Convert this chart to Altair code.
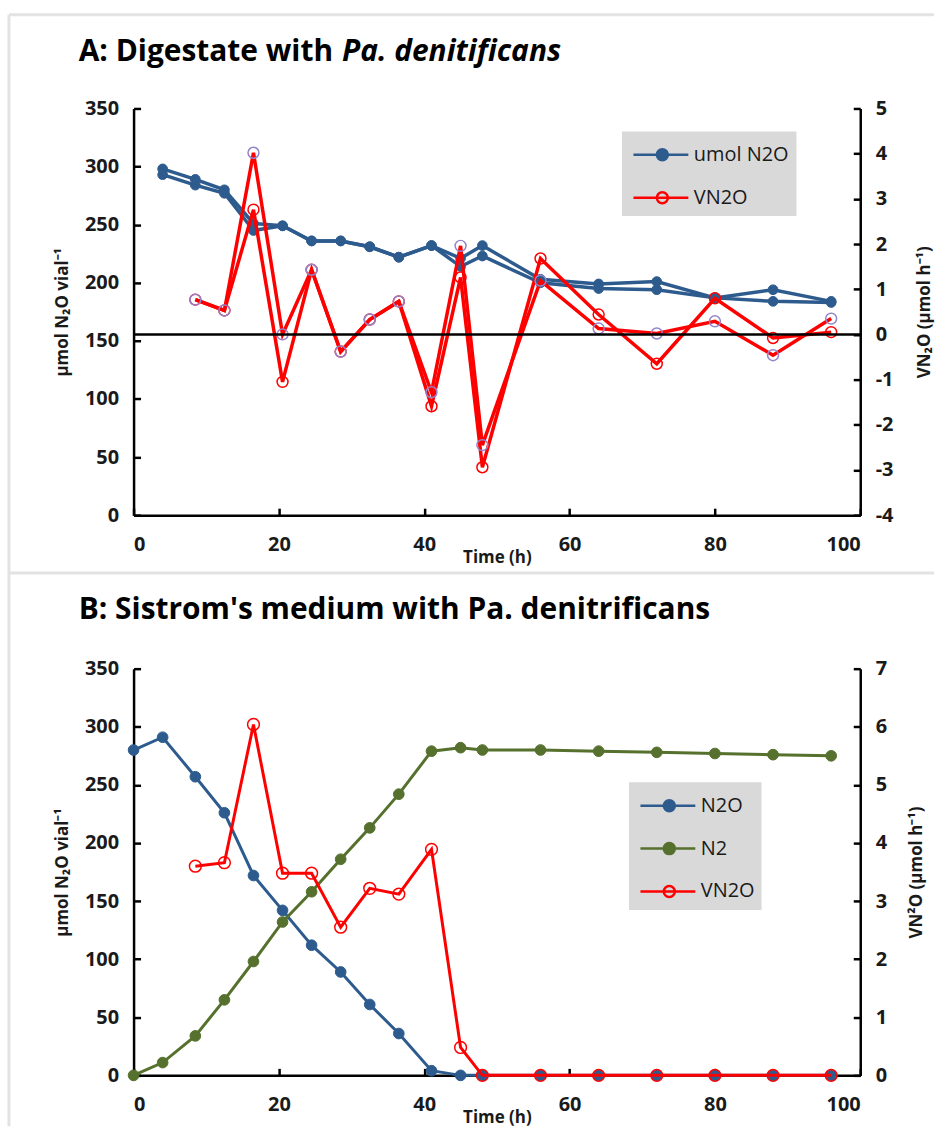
import altair as alt
import pandas as pd

# ---------------- data ----------------
# A: digestate inoculated with Pa. denitrificans (two replicate vials)
time_a = [4, 8.5, 12.5, 16.5, 20.5, 24.5, 28.5, 32.5, 36.5, 41, 45, 48, 56, 64, 72, 80, 88, 96]
n2o_a_vial1 = [298, 289, 280, 251, 249, 236, 236, 231, 222, 232, 221, 232, 203, 199, 201, 187, 194, 184]
n2o_a_vial2 = [293, 284, 277, 245, 249, 236, 236, 231, 222, 232, 214, 223, 200, 195, 194, 187, 184, 183]
time_a_rate = [8.5, 12.5, 16.5, 20.5, 24.5, 28.5, 32.5, 36.5, 41, 45, 48, 56, 64, 72, 80, 88, 96]
vn2o_a_vial1 = [0.77, 0.53, 2.76, -1.05, 1.43, -0.38, 0.33, 0.73, -1.59, 1.26, -2.94, 1.68, 0.44, -0.65, 0.80, -0.08, 0.05]
vn2o_a_vial2 = [0.77, 0.53, 4.02, 0.00, 1.43, -0.38, 0.33, 0.73, -1.28, 1.96, -2.45, 1.19, 0.13, 0.02, 0.29, -0.46, 0.35]

# B: Sistrom's medium with Pa. denitrificans
time_b = [0, 4, 8.5, 12.5, 16.5, 20.5, 24.5, 28.5, 32.5, 36.5, 41, 45, 48, 56, 64, 72, 80, 88, 96]
n2o_b = [280, 291, 257, 226, 172, 142, 112, 89, 61, 36, 4, 0, 0, 0, 0, 0, 0, 0, 0]
n2_b = [0, 11, 34, 65, 98, 132, 158, 186, 213, 242, 279, 282, 280, 280, 279, 278, 277, 276, 275]
time_b_rate = [8.5, 12.5, 16.5, 20.5, 24.5, 28.5, 32.5, 36.5, 41, 45, 48, 56, 64, 72, 80, 88, 96]
vn2o_b = [3.60, 3.66, 6.04, 3.48, 3.48, 2.55, 3.22, 3.12, 3.89, 0.48, 0, 0, 0, 0, 0, 0, 0]

series_a = ["umol N2O", "VN2O"]
series_b = ["N2O", "N2", "VN2O"]

# ---------------- style ----------------
FONT = "Open Sans"
INK = "#1A1A1A"
BLUE = "#2E5B8E"
GREEN = "#56702D"
RED = "#FF0000"
PURPLE = "#9484CC"
FRAME = "#E3E3E3"
W, H = 729, 408
INWARD = {"expr": "-7"}

# legend glyph: a short line with a circle on it (drawn a little right of the
# nominal symbol centre so that the rows stay compact)
LEG_PATH = "M-0.8,0L2.87,0M0.76,0A0.37,0.37,0,1,1,1.5,0A0.37,0.37,0,1,1,0.76,0Z"


def legend(x, y):
    return alt.Legend(
        title=None, orient="none", legendX=x, legendY=y,
        fillColor="#D9D9D9", padding=7,
        symbolType=LEG_PATH, symbolSize=900, symbolStrokeWidth=2.5, symbolOpacity=1,
        labelFont=FONT, labelFontSize=20, labelColor=INK, labelOffset=32,
        rowPadding=15,
    )


def x_enc():
    return alt.X(
        "time:Q",
        scale=alt.Scale(domain=[0, 100], nice=False),
        axis=alt.Axis(values=[0, 20, 40, 60, 80, 100], title="Time (h)",
                      titleY=42, titleBaseline="middle",
                      tickSize=INWARD, labelPadding=26),
    )


def y_left(title):
    return alt.Y(
        "value:Q",
        scale=alt.Scale(domain=[0, 350], nice=False),
        axis=alt.Axis(values=list(range(0, 351, 50)), title=title,
                      titleX=-71, titleAngle=270, titleBaseline="middle",
                      tickSize=INWARD, labelPadding=22),
    )


def y_right(domain, title, title_x):
    return alt.Y(
        "rate:Q",
        scale=alt.Scale(domain=domain, nice=False, zero=False),
        axis=alt.Axis(orient="right", values=list(range(domain[0], domain[1] + 1)),
                      labelExpr="'' + datum.value",
                      title=title, titleX=title_x, titleAngle=270, titleBaseline="middle",
                      tickSize=INWARD, labelPadding=22),
    )


one_row = pd.DataFrame({"k": [0]})


def text_piece(text, x, y, italic=False):
    return alt.Chart(one_row).mark_text(
        align="left", baseline="middle", font=FONT, fontSize=30,
        fontWeight="bold", fontStyle="italic" if italic else "normal", color="#000000",
    ).encode(x=alt.value(x), y=alt.value(y), text=alt.value(text))


# ---------------- panel A ----------------
df_a_n2o = pd.concat([
    pd.DataFrame({"time": time_a, "value": n2o_a_vial1, "vial": "1", "series": series_a[0]}),
    pd.DataFrame({"time": time_a, "value": n2o_a_vial2, "vial": "2", "series": series_a[0]}),
])
df_a_v1 = pd.DataFrame({"time": time_a_rate, "rate": vn2o_a_vial1, "vial": "1", "series": series_a[1]})
df_a_v2 = pd.DataFrame({"time": time_a_rate, "rate": vn2o_a_vial2, "vial": "2", "series": series_a[1]})
df_a_rate = pd.concat([df_a_v1, df_a_v2])

leg_a = legend(490, 23)
stroke_a = alt.Stroke("series:N", scale=alt.Scale(domain=series_a, range=[BLUE, RED]), legend=leg_a)
fill_a = alt.Fill("series:N", scale=alt.Scale(domain=series_a, range=[BLUE, "transparent"]), legend=leg_a)

left_a = alt.layer(
    alt.Chart(df_a_n2o).mark_line(strokeWidth=3.5).encode(
        x=x_enc(), y=y_left("µmol N₂O vial⁻¹"), stroke=stroke_a, detail="vial:N"),
    alt.Chart(df_a_n2o).mark_point(filled=True, size=95, strokeWidth=1, opacity=1).encode(
        x=x_enc(), y=y_left("µmol N₂O vial⁻¹"), stroke=stroke_a, fill=fill_a),
)

ya_r = y_right([-4, 5], "VN₂O (µmol h⁻¹)", 64)
right_a = alt.layer(
    alt.Chart(df_a_rate).mark_line(strokeWidth=3.5).encode(
        x=x_enc(), y=ya_r, stroke=stroke_a, detail="vial:N"),
    alt.Chart(df_a_v1).mark_point(filled=True, size=120, strokeWidth=1.5, opacity=1).encode(
        x=x_enc(), y=ya_r, stroke=stroke_a, fill=fill_a),
    alt.Chart(df_a_v2).mark_point(filled=False, size=120, strokeWidth=1.5, color=PURPLE, opacity=1).encode(
        x=x_enc(), y=ya_r),
    alt.Chart(one_row).mark_rule(color="#000000", strokeWidth=2.5).encode(y=alt.datum(0)),
)

# frame lines around the figure
frame_lines = alt.layer(
    alt.Chart(one_row).mark_rule(color=FRAME, strokeWidth=3).encode(
        x=alt.value(-125), y=alt.value(-94), y2=alt.value(1021)),
    alt.Chart(one_row).mark_rule(color=FRAME, strokeWidth=3).encode(
        x=alt.value(-125), x2=alt.value(803), y=alt.value(-94)),
    alt.Chart(one_row).mark_rule(color=FRAME, strokeWidth=3).encode(
        x=alt.value(-125), x2=alt.value(803), y=alt.value(466)),
)

panel_a = alt.layer(
    frame_lines,
    left_a,
    right_a,
    text_piece("A: Digestate with", -55, -57),
    text_piece("Pa. denitificans", 209, -57, italic=True),
).resolve_scale(y="independent").properties(width=W, height=H)

# ---------------- panel B ----------------
df_b_left = pd.concat([
    pd.DataFrame({"time": time_b, "value": n2o_b, "series": series_b[0]}),
    pd.DataFrame({"time": time_b, "value": n2_b, "series": series_b[1]}),
])
df_b_rate = pd.DataFrame({"time": time_b_rate, "rate": vn2o_b, "series": series_b[2]})

leg_b = legend(497, 114)
stroke_b = alt.Stroke("series:N", scale=alt.Scale(domain=series_b, range=[BLUE, GREEN, RED]), legend=leg_b)
fill_b = alt.Fill("series:N", scale=alt.Scale(domain=series_b, range=[BLUE, GREEN, "transparent"]), legend=leg_b)

left_b = alt.layer(
    alt.Chart(df_b_left).mark_line(strokeWidth=3).encode(
        x=x_enc(), y=y_left("µmol N₂O vial⁻¹"), stroke=stroke_b),
    alt.Chart(df_b_left).mark_point(filled=True, size=115, strokeWidth=1, opacity=1).encode(
        x=x_enc(), y=y_left("µmol N₂O vial⁻¹"), stroke=stroke_b, fill=fill_b),
)

yb_r = y_right([0, 7], "VN²O (µmol h⁻¹)", 56)
right_b = alt.layer(
    alt.Chart(df_b_rate).mark_line(strokeWidth=3).encode(
        x=x_enc(), y=yb_r, stroke=stroke_b),
    alt.Chart(df_b_rate).mark_point(filled=True, size=140, strokeWidth=1.5, opacity=1).encode(
        x=x_enc(), y=yb_r, stroke=stroke_b, fill=fill_b),
)

panel_b = alt.layer(
    left_b,
    right_b,
    text_piece("B: Sistrom's medium with Pa. denitrificans", -55, -59),
).resolve_scale(y="independent").properties(width=W, height=H)

chart = alt.vconcat(panel_a, panel_b, spacing=154, bounds="flush").resolve_scale(
    stroke="independent", fill="independent"
).resolve_legend(
    stroke="independent", fill="independent"
).properties(
    padding={"left": 7, "top": 11, "right": 0, "bottom": 0},
    background="white",
).configure_view(stroke=None).configure_axis(
    grid=False, domainColor="#000000", domainWidth=2.5,
    tickColor="#000000", tickWidth=2.5,
    labelFont=FONT, labelFontSize=20, labelFontWeight="bold", labelColor=INK,
    titleFont=FONT, titleFontSize=17, titleFontWeight="bold", titleColor=INK,
)

chart.save("out.html", embed_options={"renderer": "svg", "actions": False})
